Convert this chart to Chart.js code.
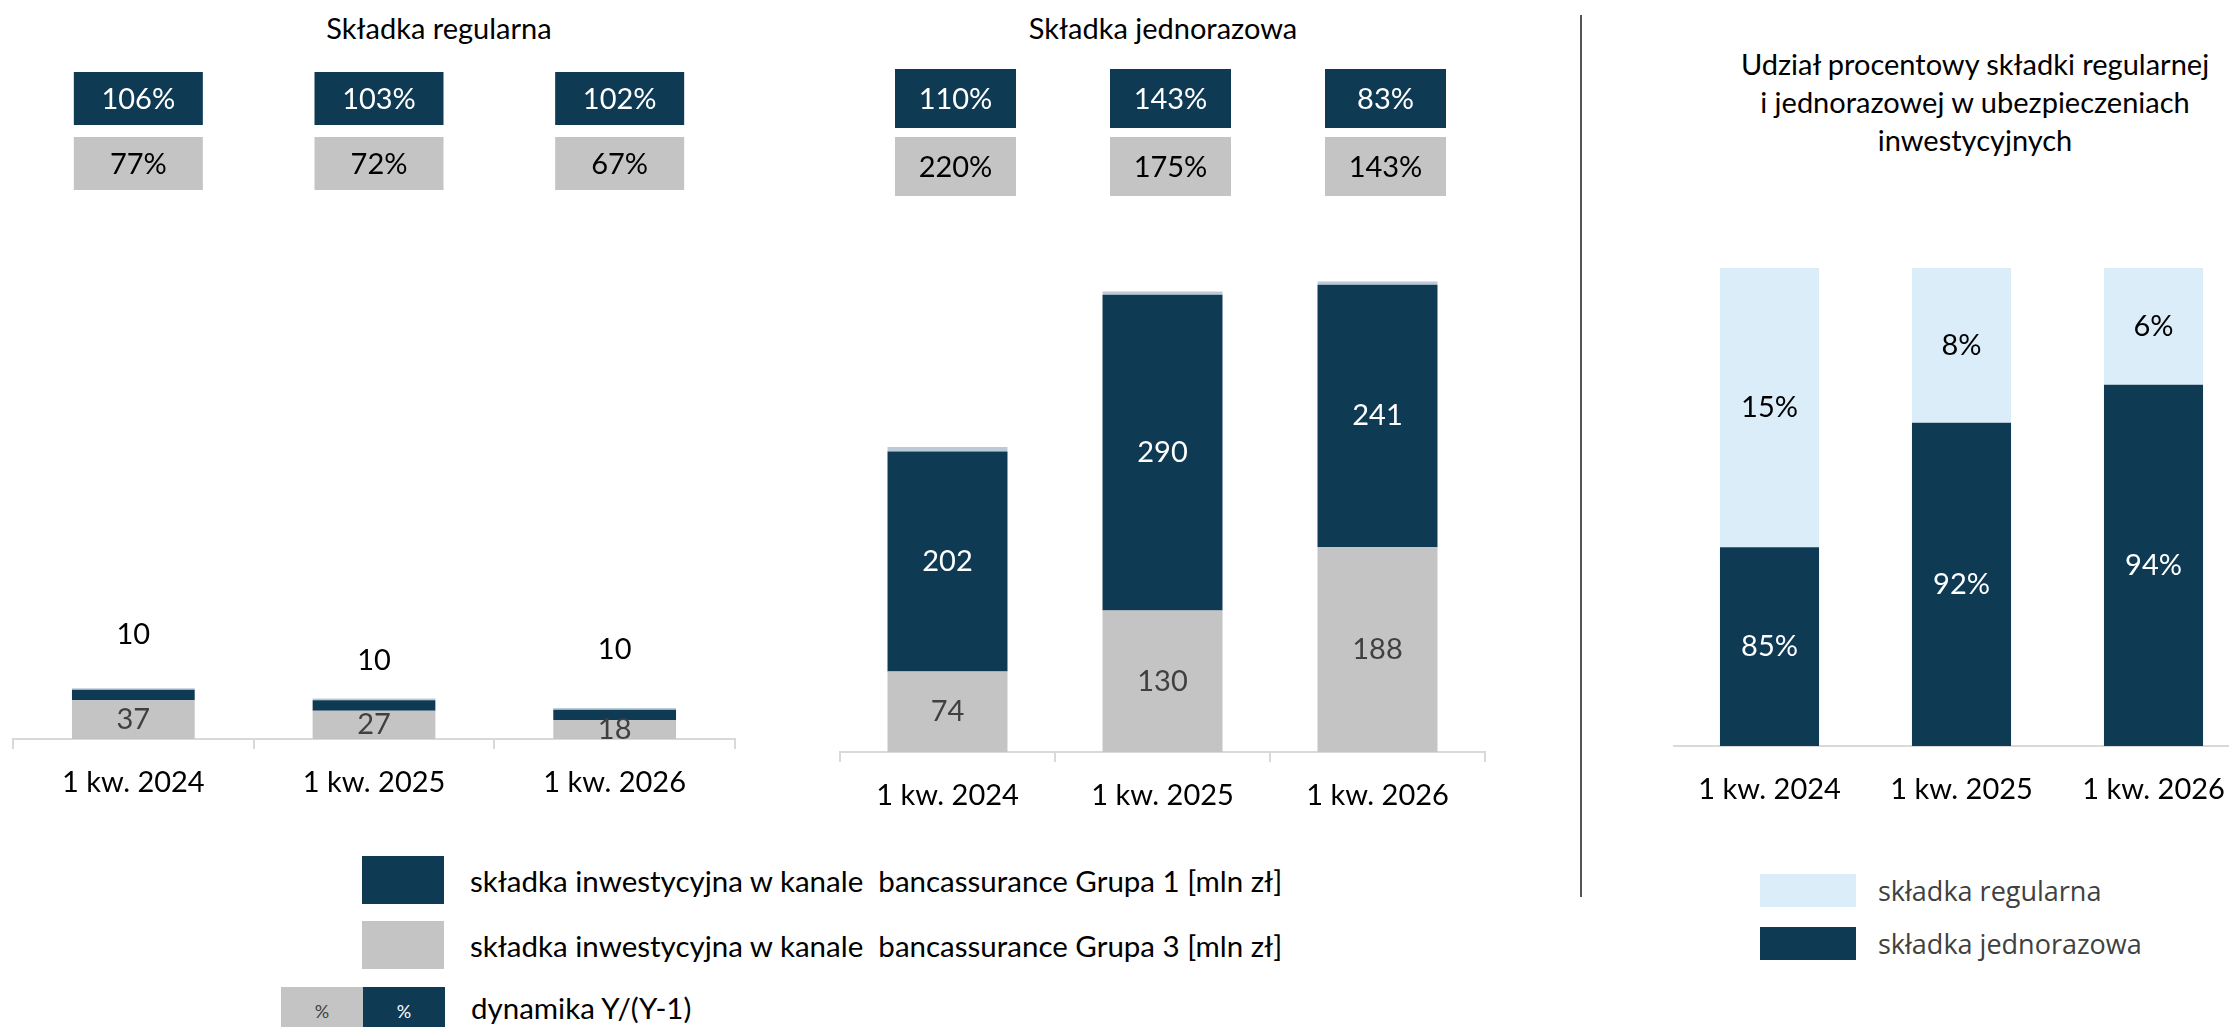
<!DOCTYPE html>
<html lang="pl">
<head>
<meta charset="utf-8">
<title>Składka inwestycyjna w kanale bancassurance</title>
<script src="https://cdn.jsdelivr.net/npm/chart.js@4.4.1/dist/chart.umd.min.js"></script>
<style>
  html, body { margin: 0; padding: 0; background: #fff; overflow: hidden; }
  body { position: relative; width: 2229px; height: 1027px; font-family: Lato, sans-serif; color: #000; }
  canvas { position: absolute; top: 0; }
  .title { position: absolute; font-size: 29px; line-height: 38px; text-align: center; white-space: nowrap; transform: translateX(-50%); }
  .divider { position: absolute; left: 1580px; top: 15px; width: 2px; height: 882px; background: #555; }
  .lg { position: absolute; display: flex; align-items: center; white-space: pre; }
  .lg .sw { display: inline-block; flex: none; }
  .main-lg { left: 281px; font-size: 29.5px; }
  .main-lg .sw { width: 82px; height: 48px; }
  .main-lg .gap { width: 81px; flex: none; }
  .main-lg .txt { margin-left: 26px; }
  .main-lg .txt.low { position: relative; top: -4px; }
  .lg .sw.pct { display: inline-flex; align-items: center; justify-content: center; font-size: 18px; }
  .share-lg { left: 1760px; font-family: "Open Sans", sans-serif; font-size: 27px; color: #404040; }
  .share-lg .sw { width: 96px; height: 33px; margin-right: 22px; }
</style>
</head>
<body>

<div class="title" style="left:439px; top:9px;">Składka regularna</div>
<div class="title" style="left:1163px; top:9px;">Składka jednorazowa</div>
<div class="title" style="left:1975px; top:45px;">Udział procentowy składki regularnej<br>i jednorazowej w ubezpieczeniach<br>inwestycyjnych</div>
<div class="divider"></div>

<canvas id="regularChart" width="760" height="830" style="left:0; width:760px; height:830px;"></canvas>
<canvas id="singleChart" width="720" height="830" style="left:800px; width:720px; height:830px;"></canvas>
<canvas id="shareChart" width="700" height="830" style="left:1600px; width:700px; height:830px;"></canvas>

<div id="mainLegend"></div>
<div id="shareLegend"></div>

<script>
/* ── DATA ── */
const categories = ['1 kw. 2024', '1 kw. 2025', '1 kw. 2026'];

// składka regularna [mln zł]
const regularGroup3 = [37, 27, 18];
const regularGroup1 = [10, 10, 10];
const regularGroup2 = [1.5, 1.5, 1.5];
const regularDynGroup1 = [106, 103, 102];
const regularDynGroup3 = [77, 72, 67];

// składka jednorazowa [mln zł]
const singleGroup3 = [74, 130, 188];
const singleGroup1 = [202, 290, 241];
const singleGroup2 = [4, 3, 3];
const singleDynGroup1 = [110, 143, 83];
const singleDynGroup3 = [220, 175, 143];

// udział procentowy [%]
const shareSingle = [85.4, 91.9, 93.9];
const shareRegular = [14.6, 8.1, 6.1];

/* ── STYLE ── */
const NAVY = '#0e3a54';
const GREY = '#c4c4c4';
const SKY = '#dbedf8';
const GROUP2 = '#bccad8';
const AXIS = '#d9d9d9';
const FONT = '29px Lato';

/* ── PLUGINS ── */
// value labels inside (centre of the visible part) or above the bar
function barLabels(specs) {
  return {
    id: 'barLabels',
    afterDatasetsDraw(chart) {
      const { ctx, chartArea } = chart;
      ctx.save();
      ctx.textAlign = 'center';
      ctx.textBaseline = 'middle';
      ctx.font = FONT;
      specs.forEach((spec, di) => {
        if (!spec) return;
        const values = chart.data.datasets[di].data;
        ctx.fillStyle = spec.color;
        chart.getDatasetMeta(di).data.forEach((bar, i) => {
          const { x, y, base } = bar.getProps(['x', 'y', 'base'], true);
          const top = Math.max(Math.min(y, base), chartArea.top);
          const bottom = Math.min(Math.max(y, base), chartArea.bottom);
          const ly = spec.lift ? top - spec.lift[i] : (top + bottom) / 2;
          ctx.fillText(spec.format(values[i]), x, ly);
        });
      });
      ctx.restore();
    }
  };
}

// "dynamika Y/(Y-1)" boxes above the bars
function dynamicsBoxes(rows, box) {
  return {
    id: 'dynBoxes',
    afterDraw(chart) {
      const { ctx } = chart;
      const bars = chart.getDatasetMeta(0).data;
      ctx.save();
      ctx.textAlign = 'center';
      ctx.textBaseline = 'middle';
      ctx.font = FONT;
      rows.forEach(row => {
        bars.forEach((bar, i) => {
          const cx = bar.x + box.shift;
          ctx.fillStyle = row.fill;
          ctx.fillRect(cx - box.width / 2, row.top, box.width, row.height);
          ctx.fillStyle = row.color;
          ctx.fillText(row.values[i] + '%', cx, row.top + row.height / 2 + 1);
        });
      });
      ctx.restore();
    }
  };
}

/* ── CHART FACTORY ── */
function createStackedChart(id, cfg) {
  return new Chart(document.getElementById(id), {
    type: 'bar',
    data: { labels: categories, datasets: cfg.datasets },
    options: {
      responsive: false,
      animation: false,
      events: [],
      layout: { padding: cfg.padding },
      datasets: { bar: { barPercentage: 1, categoryPercentage: cfg.barShare, clip: 0, borderWidth: 0 } },
      plugins: { legend: { display: false }, tooltip: { enabled: false } },
      scales: {
        x: {
          stacked: true,
          grid: { drawOnChartArea: false, offset: true, tickLength: 10, lineWidth: 2, color: AXIS,
                  tickColor: cfg.tickMarks ? AXIS : 'rgba(0,0,0,0)' },
          border: { display: true, color: AXIS, width: 2 },
          ticks: { color: '#000', font: { family: 'Lato', size: 29 }, padding: 16, maxRotation: 0 },
          afterFit: axis => { axis.height = 60; }
        },
        y: { stacked: true, display: false, min: cfg.min, max: cfg.max }
      }
    },
    plugins: cfg.plugins
  });
}

createStackedChart('regularChart', {
  padding: { left: 13, right: 25, top: 267, bottom: 31 },
  barShare: 0.51, min: 0, max: 450, tickMarks: true,
  datasets: [
    { label: 'Grupa 3', data: regularGroup3, backgroundColor: GREY },
    { label: 'Grupa 1', data: regularGroup1, backgroundColor: NAVY },
    { label: 'Grupa 2', data: regularGroup2, backgroundColor: GROUP2 }
  ],
  plugins: [
    barLabels([
      { color: '#404040', format: v => Math.round(v) },
      { color: '#000', format: v => Math.round(v), lift: [55, 40, 60] },
      null
    ]),
    dynamicsBoxes([
      { values: regularDynGroup1, fill: NAVY, color: '#fff', top: 72, height: 53 },
      { values: regularDynGroup3, fill: GREY, color: '#000', top: 137, height: 53 }
    ], { width: 129, shift: 5 })
  ]
});

createStackedChart('singleChart', {
  padding: { left: 40, right: 35, top: 262, bottom: 18 },
  barShare: 0.558, min: 0, max: 450, tickMarks: true,
  datasets: [
    { label: 'Grupa 3', data: singleGroup3, backgroundColor: GREY },
    { label: 'Grupa 1', data: singleGroup1, backgroundColor: NAVY },
    { label: 'Grupa 2', data: singleGroup2, backgroundColor: GROUP2 }
  ],
  plugins: [
    barLabels([
      { color: '#404040', format: v => Math.round(v) },
      { color: '#fff', format: v => Math.round(v) },
      null
    ]),
    dynamicsBoxes([
      { values: singleDynGroup1, fill: NAVY, color: '#fff', top: 69, height: 59 },
      { values: singleDynGroup3, fill: GREY, color: '#000', top: 137, height: 59 }
    ], { width: 121, shift: 8 })
  ]
});

createStackedChart('shareChart', {
  padding: { left: 73.5, right: 50.5, top: 268, bottom: 24 },
  barShare: 0.516, min: 75, max: 100, tickMarks: false,
  datasets: [
    { label: 'składka jednorazowa', data: shareSingle, backgroundColor: NAVY },
    { label: 'składka regularna', data: shareRegular, backgroundColor: SKY }
  ],
  plugins: [
    barLabels([
      { color: '#fff', format: v => Math.round(v) + '%' },
      { color: '#000', format: v => Math.round(v) + '%' }
    ])
  ]
});

/* ── LEGENDS ── */
const mainLegend = [
  { top: 856, swatches: ['gap', NAVY], text: 'składka inwestycyjna w kanale  bancassurance Grupa 1 [mln zł]' },
  { top: 921, swatches: ['gap', GREY], text: 'składka inwestycyjna w kanale  bancassurance Grupa 3 [mln zł]' },
  { top: 987, swatches: [GREY, NAVY], text: 'dynamika Y/(Y-1)', pct: true }
];
document.getElementById('mainLegend').innerHTML = mainLegend.map(row => {
  const sw = row.swatches.map(c => c === 'gap'
    ? '<span class="gap"></span>'
    : `<span class="sw${row.pct ? ' pct' : ''}" style="background:${c};color:${c === NAVY ? '#fff' : '#404040'}">${row.pct ? '%' : ''}</span>`).join('');
  return `<div class="lg main-lg" style="top:${row.top}px">${sw}<span class="txt${row.pct ? ' low' : ''}">${row.text}</span></div>`;
}).join('');

const shareLegend = [
  { top: 872, color: SKY, text: 'składka regularna' },
  { top: 925, color: NAVY, text: 'składka jednorazowa' }
];
document.getElementById('shareLegend').innerHTML = shareLegend.map(row =>
  `<div class="lg share-lg" style="top:${row.top}px"><span class="sw" style="background:${row.color}"></span>${row.text}</div>`
).join('');
</script>
</body>
</html>
